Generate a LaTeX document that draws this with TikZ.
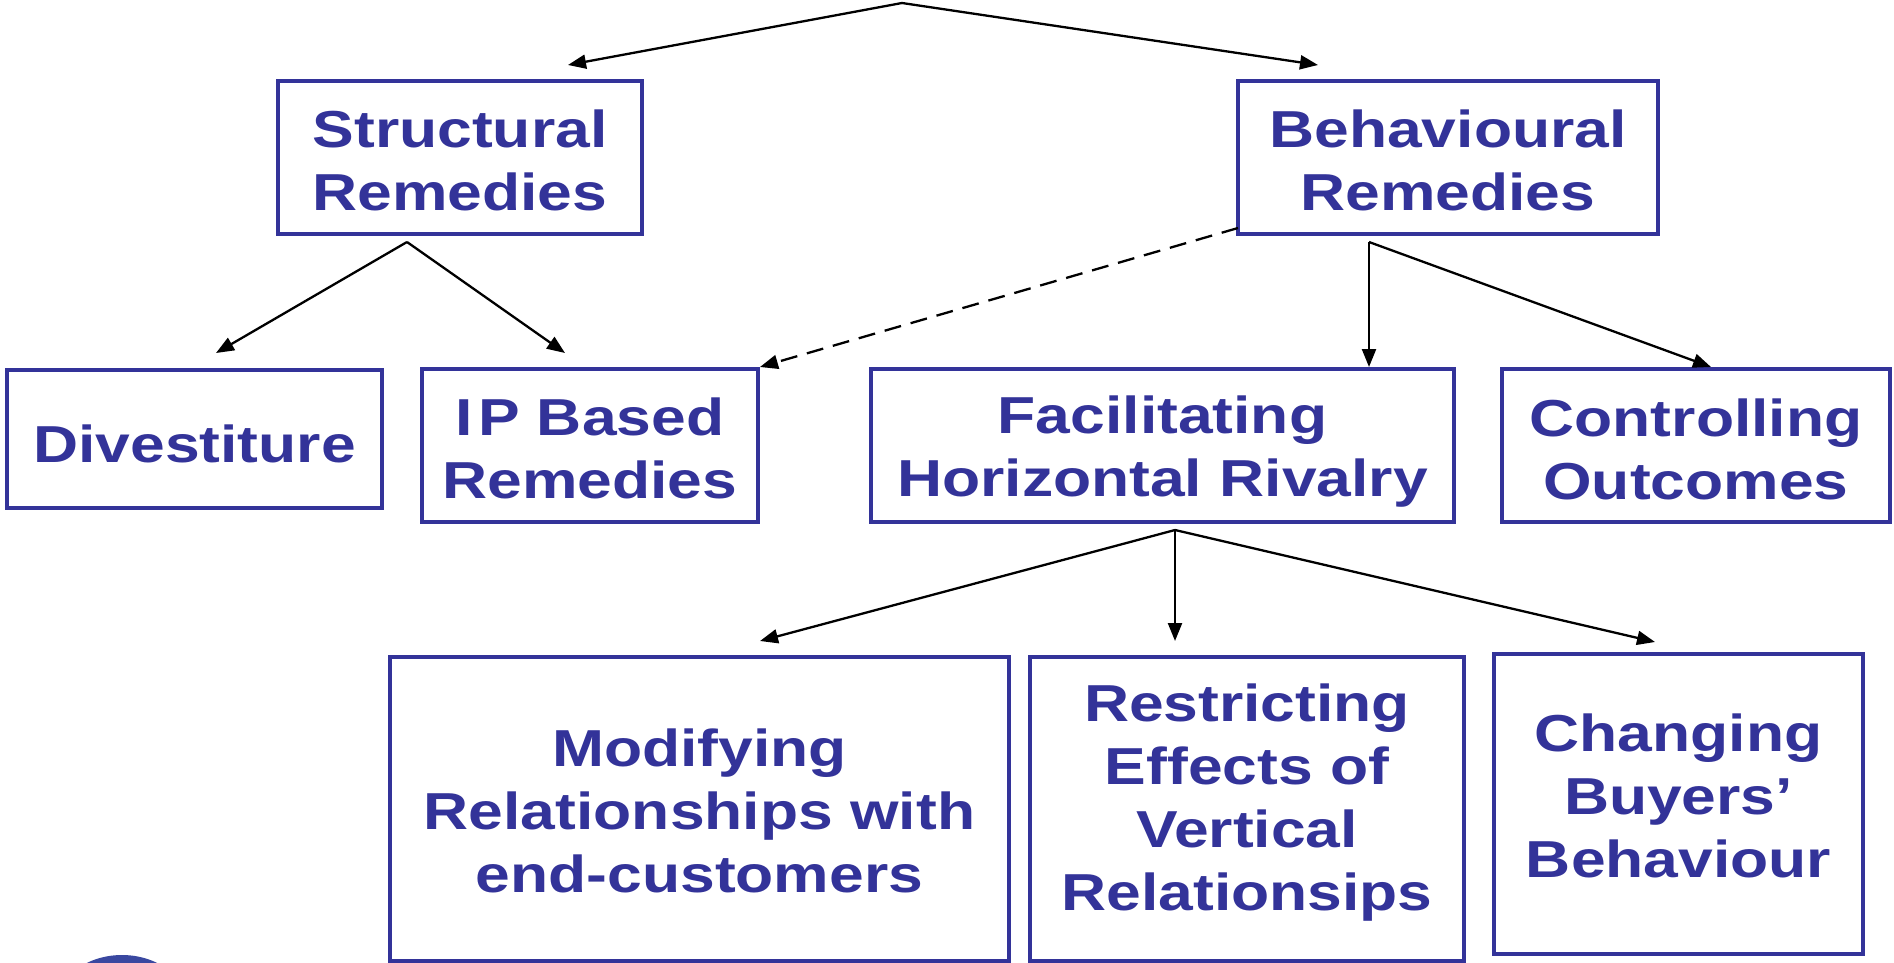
\documentclass[tikz,border=0pt]{standalone}
\usepackage{fontspec}
\setmainfont{Liberation Sans}[FakeStretch=1.2]
\usetikzlibrary{arrows.meta,calc}
\definecolor{remblue}{RGB}{51,51,153}
\definecolor{logoblue}{RGB}{58,72,160}
% strut in first line: pushes the text down by #1
\newcommand\pushdn[1]{\rule{0pt}{\dimexpr 38pt+2\dimexpr #1\relax\relax}}
% strut in last line: pushes the text up by #1
\newcommand\pushup[2]{\rule[-\dimexpr #2+2\dimexpr #1\relax\relax]{0pt}{0pt}}
\begin{document}
\begin{tikzpicture}[x=1pt,y=-1pt,
  box/.style={draw=remblue, line width=4pt, text=remblue, inner sep=0pt,
    align=center, font=\bfseries\fontsize{52pt}{63pt}\selectfont},
  conn/.style={line width=2.3pt, draw=black, -{Triangle[length=18pt,width=14pt]}},
  dconn/.style={conn, dash pattern=on 17pt off 10pt},
]
\useasboundingbox (0,0) rectangle (1894,963);
\fill[white] (0,0) rectangle (1894,963);

% logo fragment
\begin{scope}
\clip (0,0) rectangle (1894,963);
\fill[logoblue] (122,1012) ellipse [x radius=69, y radius=57];
\end{scope}

% boxes
\node[box, minimum width=364pt, minimum height=153pt] (S) at (460,157.5) {\pushdn{3pt}Structural\\Remedies};
\node[box, minimum width=420pt, minimum height=153pt] (B) at (1448,157.5) {\pushdn{3pt}Behavioural\\Remedies};
\node[box, minimum width=375pt, minimum height=138pt] (D) at (194.5,439) {\pushdn{5pt}Divestiture};
\node[box, minimum width=336pt, minimum height=153pt] (IP) at (590,445.5) {\pushdn{3pt}I\kern5pt P Based\\Remedies};
\node[box, minimum width=583pt, minimum height=153pt] (F) at (1162.5,445.5) {\pushdn{6pt}Facilitating\\Horizontal Rivalry};
\node[box, minimum width=388pt, minimum height=153pt] (C) at (1696,445.5) {\pushdn{4pt}Controlling\\Outcomes};
\node[box, minimum width=619pt, minimum height=304pt] (M) at (699.5,809) {\pushdn{2pt}Modifying\\Relationships with\\end-customers};
\node[box, minimum width=434pt, minimum height=304pt] (R) at (1247,809) {Restricting\\Effects of\\Vertical\\Relationsips\pushup{6pt}{11pt}};
\node[box, minimum width=369pt, minimum height=300pt] (Ch) at (1678.5,804) {Changing\\Buyers’\\Behaviour\pushup{8pt}{0pt}};

% branch points and arrow ends
\coordinate (top) at (902,3);
\coordinate (tS) at (568,65);
\coordinate (tB) at (1318,65);
\coordinate (aS) at (407,242);
\coordinate (tD) at (216,353);
\coordinate (tIP) at (565,353);
\coordinate (dB) at ($(B.south west)+(2,-8)$);
\coordinate (aB) at (1369,242);
\coordinate (tC) at (1711,367);
\coordinate (aF) at (1175,530);
\coordinate (tM) at (760,641);
\coordinate (tR) at (1175,641);
\coordinate (tCh) at (1655,642);

% connectors
\draw[conn] (top) -- (tS);
\draw[conn] (top) -- (tB);
\draw[conn] (aS) -- (tD);
\draw[conn] (aS) -- (tIP);
\draw[dconn] (dB) -- (IP.north east);
\draw[conn] (aB) -- (aB |- F.north);
\draw[conn] (aB) -- (tC);
\draw[conn] (aF) -- (tM);
\draw[conn] (aF) -- (tR);
\draw[conn] (aF) -- (tCh);
\end{tikzpicture}
\end{document}
